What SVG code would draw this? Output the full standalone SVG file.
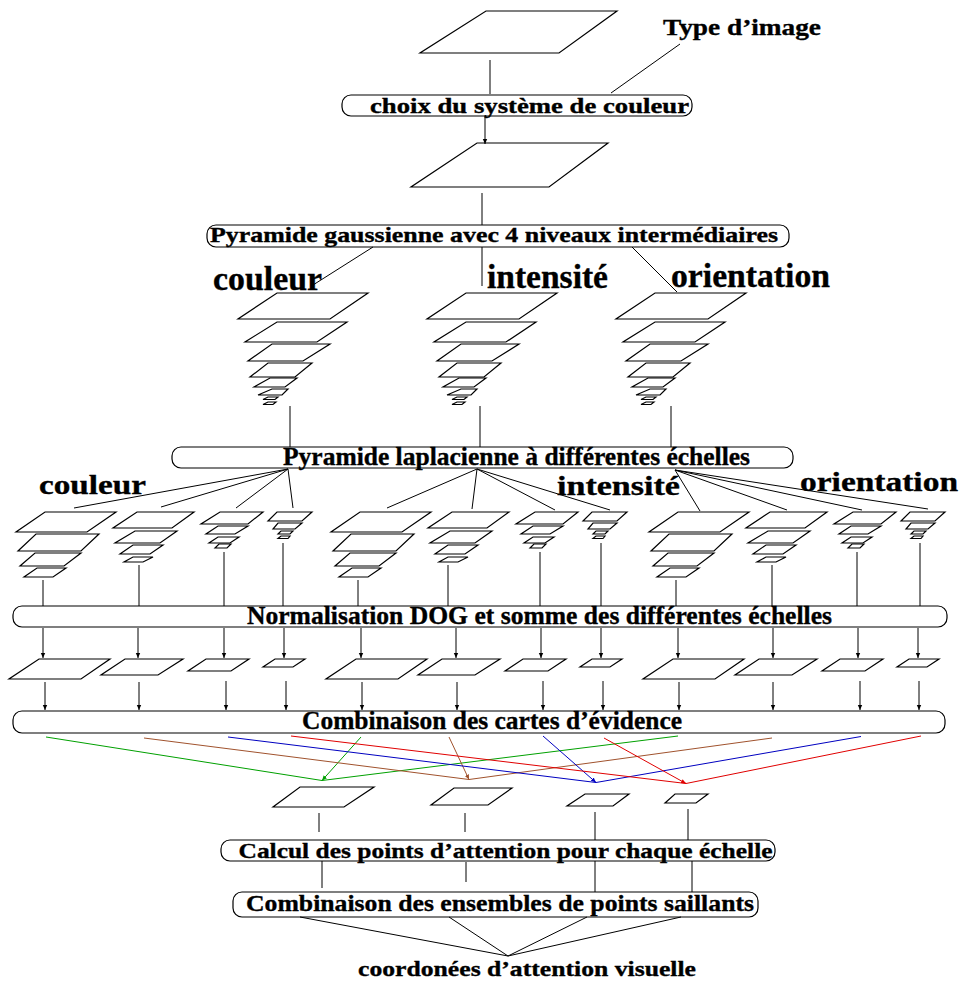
<svg xmlns="http://www.w3.org/2000/svg" width="964" height="983" viewBox="0 0 964 983">
<defs>
<marker id="ah" markerUnits="userSpaceOnUse" markerWidth="6" markerHeight="6" refX="5" refY="3" orient="auto">
<path d="M0,0.8 L5,3 L0,5.2 z" fill="#000"/>
</marker>
<marker id="ahg" markerUnits="userSpaceOnUse" markerWidth="6" markerHeight="6" refX="5" refY="3" orient="auto"><path d="M0,0.8 L5,3 L0,5.2 z" fill="#00a000"/></marker>
<marker id="ahb" markerUnits="userSpaceOnUse" markerWidth="6" markerHeight="6" refX="5" refY="3" orient="auto"><path d="M0,0.8 L5,3 L0,5.2 z" fill="#a0522d"/></marker>
<marker id="ahu" markerUnits="userSpaceOnUse" markerWidth="6" markerHeight="6" refX="5" refY="3" orient="auto"><path d="M0,0.8 L5,3 L0,5.2 z" fill="#0000c0"/></marker>
<marker id="ahr" markerUnits="userSpaceOnUse" markerWidth="6" markerHeight="6" refX="5" refY="3" orient="auto"><path d="M0,0.8 L5,3 L0,5.2 z" fill="#e00000"/></marker>
<g id="gpyr">
<polygon points="277,293 368,293 330,319 238,319"/>
<polygon points="277,322 347,322 317,342 245,342"/>
<polygon points="272,344 330,344 303,361 248,361"/>
<polygon points="268,363 312,363 295,377 250,377"/>
<polygon points="270,378 297,378 285,387 254,387"/>
<polygon points="272,389 288,389 282,395 258,395"/>
<polygon points="268,397 278,397 275,399.5 263,399.5"/>
<polygon points="268,402 276,402 273,404.5 263,404.5"/>
</g>
<g id="lpyr">
<polygon points="45,512 116,512 87,532 16,532"/>
<polygon points="36,534 99,534 81,551 18,551"/>
<polygon points="35,553 81,553 64,566 20,566"/>
<polygon points="37,568 66,568 53,577 24,577"/>
<polygon points="137,512 194,512 172,528 113,528"/>
<polygon points="135,531 177,531 160,543 115,543"/>
<polygon points="133,545 163,545 150,554 120,554"/>
<polygon points="133,557 153,557 143,562 124,562"/>
<polygon points="220,512 263,512 248,524 201,524"/>
<polygon points="218,526 248,526 235,534 206,534"/>
<polygon points="218,537 239,537 230,543 209,543"/>
<polygon points="219,544 231,544 227,548 215,548"/>
<polygon points="277,512 312,512 302,521 268,521"/>
<polygon points="278,523 302,523 295,529 273,529"/>
<polygon points="281,531 293,531 290,534 278,534"/>
<polygon points="281,536 290,536 288,538.5 278,538.5"/>
</g>
<g id="prow">
<polygon points="39,659 110,659 81,679 9,679"/>
<polygon points="125,659 183,659 158,675 101,675"/>
<polygon points="206,659 249,659 231,671 188,671"/>
<polygon points="275,659 305,659 293,667 263,667"/>
</g>
</defs>
<style>
polygon{fill:none;stroke:#000;stroke-width:1.2}
.box{fill:none;stroke:#000;stroke-width:1.2}
line{stroke:#000;stroke-width:1}
.arr{marker-end:url(#ah)}
text{font-family:"Liberation Serif","Times New Roman",serif;font-weight:bold;fill:#000;stroke:#000;stroke-width:0.35}
</style>

<g id="connectors">
<line x1="490" y1="60" x2="490" y2="94"/>
<line x1="680" y1="44" x2="611" y2="93"/>
<line x1="485" y1="116" x2="485" y2="144" class="arr"/>
<line x1="482" y1="193" x2="482" y2="225"/>
<line x1="373" y1="247" x2="313" y2="285"/>
<line x1="482" y1="247" x2="482" y2="286"/>
<line x1="632" y1="247" x2="677" y2="292"/>
<line x1="290" y1="406" x2="290" y2="447"/>
<line x1="480" y1="406" x2="480" y2="447"/>
<line x1="671" y1="406" x2="671" y2="447"/>
<line x1="288" y1="469" x2="74" y2="508"/>
<line x1="288" y1="469" x2="161" y2="507"/>
<line x1="288" y1="469" x2="236" y2="508"/>
<line x1="288" y1="469" x2="293" y2="508"/>
<line x1="477" y1="469" x2="387" y2="508"/>
<line x1="477" y1="469" x2="472" y2="509"/>
<line x1="477" y1="469" x2="555" y2="510"/>
<line x1="477" y1="469" x2="610" y2="510"/>
<line x1="675" y1="470" x2="700" y2="511"/>
<line x1="675" y1="470" x2="787" y2="510"/>
<line x1="675" y1="470" x2="862" y2="510"/>
<line x1="675" y1="470" x2="928" y2="509"/>
<line x1="43" y1="580" x2="43" y2="606"/>
<line x1="139" y1="565" x2="139" y2="606"/>
<line x1="224" y1="552" x2="224" y2="606"/>
<line x1="283" y1="543" x2="283" y2="606"/>
<line x1="358" y1="580" x2="358" y2="606"/>
<line x1="448" y1="565" x2="448" y2="606"/>
<line x1="540" y1="552" x2="540" y2="606"/>
<line x1="601" y1="543" x2="601" y2="606"/>
<line x1="676" y1="580" x2="676" y2="606"/>
<line x1="772" y1="565" x2="772" y2="606"/>
<line x1="857" y1="552" x2="857" y2="606"/>
<line x1="920" y1="543" x2="920" y2="606"/>
<g class="arr">
<line x1="43" y1="628" x2="43" y2="658"/>
<line x1="138" y1="628" x2="138" y2="658"/>
<line x1="224" y1="628" x2="224" y2="658"/>
<line x1="284" y1="628" x2="284" y2="658"/>
<line x1="361" y1="628" x2="361" y2="658"/>
<line x1="456" y1="628" x2="456" y2="658"/>
<line x1="541" y1="628" x2="541" y2="658"/>
<line x1="601" y1="628" x2="601" y2="658"/>
<line x1="678" y1="628" x2="678" y2="658"/>
<line x1="773" y1="628" x2="773" y2="658"/>
<line x1="858" y1="628" x2="858" y2="658"/>
<line x1="918" y1="628" x2="918" y2="658"/>
<line x1="45" y1="682" x2="45" y2="710"/>
<line x1="139" y1="682" x2="139" y2="710"/>
<line x1="226" y1="681" x2="226" y2="710"/>
<line x1="286" y1="681" x2="286" y2="710"/>
<line x1="362" y1="682" x2="362" y2="710"/>
<line x1="457" y1="682" x2="457" y2="710"/>
<line x1="543" y1="681" x2="543" y2="710"/>
<line x1="603" y1="681" x2="603" y2="710"/>
<line x1="679" y1="682" x2="679" y2="710"/>
<line x1="773" y1="682" x2="773" y2="710"/>
<line x1="860" y1="681" x2="860" y2="710"/>
<line x1="919" y1="681" x2="919" y2="710"/>
</g>
<g fill="none">
<polyline points="46,737 322,780.5 678,736" style="stroke:#00a000"/>
<line x1="361" y1="737" x2="322" y2="780.5" style="stroke:#00a000;marker-end:url(#ahg)"/>
<polyline points="144,738 469,779.5 772,738" style="stroke:#a0522d"/>
<line x1="449" y1="737" x2="469" y2="779.5" style="stroke:#a0522d;marker-end:url(#ahb)"/>
<polyline points="228,737 596,782.5 861,736.5" style="stroke:#0000c0"/>
<line x1="543" y1="736" x2="596" y2="782.5" style="stroke:#0000c0;marker-end:url(#ahu)"/>
<polyline points="291,736 686,783.5 921,736" style="stroke:#e00000"/>
<line x1="604" y1="738" x2="686" y2="783.5" style="stroke:#e00000;marker-end:url(#ahr)"/>
</g>
<line x1="319" y1="813" x2="319" y2="832"/>
<line x1="465" y1="813" x2="465" y2="832"/>
<line x1="595" y1="812" x2="595" y2="840"/>
<line x1="688" y1="809" x2="688" y2="840"/>
<line x1="322" y1="861" x2="322" y2="888"/>
<line x1="466" y1="862" x2="466" y2="882"/>
<line x1="595" y1="861" x2="595" y2="892"/>
<line x1="692" y1="861" x2="692" y2="892"/>
<line x1="300" y1="917" x2="508" y2="956"/>
<line x1="449" y1="917" x2="508" y2="956"/>
<line x1="587" y1="917" x2="508" y2="956"/>
<line x1="681" y1="917" x2="508" y2="956"/>
</g>

<g id="img-top"><polygon points="486,11 617,11 559,53 420,53"/></g>
<g id="label-type"><text x="663" y="35" font-size="24" textLength="158" lengthAdjust="spacingAndGlyphs">Type d’image</text></g>
<g id="box-choix">
<rect class="box" x="342" y="95" width="350" height="21" rx="9"/>
<text x="370" y="113" font-size="21" textLength="319" lengthAdjust="spacingAndGlyphs">choix du système de couleur</text>
</g>
<g id="img-color"><polygon points="477,143 608,143 549,187 411,187"/></g>
<g id="box-gauss">
<rect class="box" x="207" y="225" width="582" height="22" rx="9"/>
<text x="210" y="242" font-size="21" textLength="568" lengthAdjust="spacingAndGlyphs">Pyramide gaussienne avec 4 niveaux intermédiaires</text>
</g>
<g id="label-couleur1"><text x="213" y="290" font-size="33" textLength="109" lengthAdjust="spacingAndGlyphs">couleur</text></g>
<g id="label-intensite1"><text x="487" y="288" font-size="33" textLength="121" lengthAdjust="spacingAndGlyphs">intensité</text></g>
<g id="label-orientation1"><text x="671" y="287" font-size="33" textLength="159" lengthAdjust="spacingAndGlyphs">orientation</text></g>
<g id="gpyr-couleur"><use href="#gpyr"/></g>
<g id="gpyr-intensite"><use href="#gpyr" transform="translate(189,0)"/></g>
<g id="gpyr-orientation"><use href="#gpyr" transform="translate(378,0)"/></g>
<g id="box-lap">
<rect class="box" x="172" y="447" width="621" height="21" rx="9"/>
<text x="283" y="465" font-size="25" textLength="467" lengthAdjust="spacingAndGlyphs">Pyramide laplacienne à différentes échelles</text>
</g>
<g id="label-couleur2"><text x="39" y="494" font-size="28" textLength="107" lengthAdjust="spacingAndGlyphs">couleur</text></g>
<g id="label-intensite2"><text x="557" y="495" font-size="28" textLength="123" lengthAdjust="spacingAndGlyphs">intensité</text></g>
<g id="label-orientation2"><text x="800" y="491" font-size="28" textLength="158" lengthAdjust="spacingAndGlyphs">orientation</text></g>
<g id="lpyr-couleur"><use href="#lpyr"/></g>
<g id="lpyr-intensite"><use href="#lpyr" transform="translate(315,0)"/></g>
<g id="lpyr-orientation"><use href="#lpyr" transform="translate(633,0)"/></g>
<g id="box-norm">
<rect class="box" x="13" y="606" width="934" height="21" rx="9"/>
<text x="247" y="624" font-size="25" textLength="585" lengthAdjust="spacingAndGlyphs">Normalisation DOG et somme des différentes échelles</text>
</g>
<g id="maps-couleur"><use href="#prow"/></g>
<g id="maps-intensite"><use href="#prow" transform="translate(317,0)"/></g>
<g id="maps-orientation"><use href="#prow" transform="translate(634,0)"/></g>
<g id="box-comb">
<rect class="box" x="13" y="711" width="932" height="22" rx="9"/>
<text x="302" y="729" font-size="25" textLength="380" lengthAdjust="spacingAndGlyphs">Combinaison des cartes d’évidence</text>
</g>
<g id="evidence-maps">
<polygon points="300,787 374,787 344,807 273,807"/>
<polygon points="454,788 512,788 488,805 431,805"/>
<polygon points="585,794 629,794 613,806 567,806"/>
<polygon points="675,794 708,794 696,803 665,803"/>
</g>
<g id="box-calcul">
<rect class="box" x="221" y="840" width="554" height="21" rx="9"/>
<text x="238.5" y="858" font-size="22" textLength="534" lengthAdjust="spacingAndGlyphs">Calcul des points d’attention pour chaque échelle</text>
</g>
<g id="box-ens">
<rect class="box" x="233" y="892" width="525" height="25" rx="9"/>
<text x="246" y="911" font-size="24" textLength="508" lengthAdjust="spacingAndGlyphs">Combinaison des ensembles de points saillants</text>
</g>
<g id="label-coord"><text x="358" y="976" font-size="22" textLength="338" lengthAdjust="spacingAndGlyphs">coordonées d’attention visuelle</text></g>
</svg>
